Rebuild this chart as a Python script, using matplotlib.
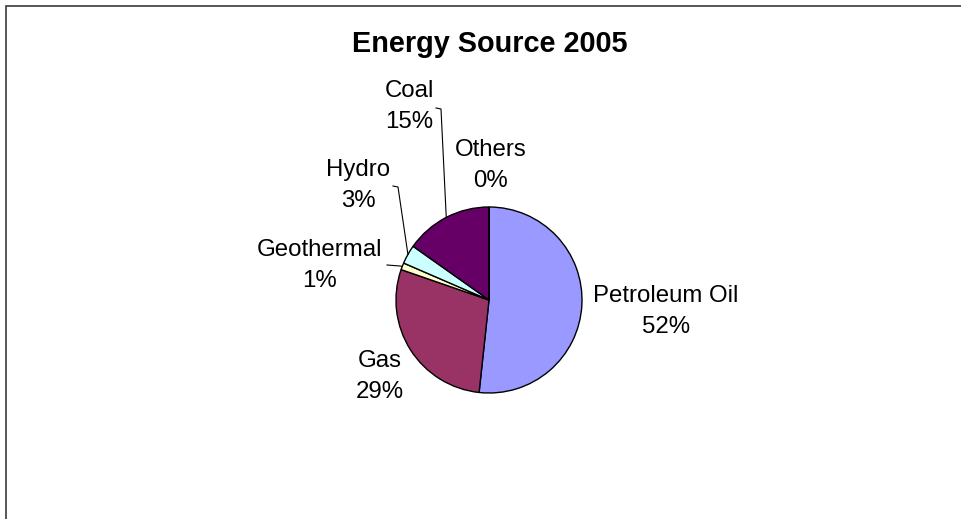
import matplotlib
matplotlib.use('Agg')
import numpy as np
import matplotlib.pyplot as plt
from matplotlib.patches import Rectangle

plt.rcParams['font.family'] = ['Liberation Sans', 'DejaVu Sans']

# data
categories = ['Petroleum Oil', 'Gas', 'Geothermal', 'Hydro', 'Coal', 'Others']
shares = [51.7, 28.6, 1.2, 3.3, 15.2, 0.0]
colors = ['#9999FF', '#993366', '#FFFFCC', '#CCFFFF', '#660066', '#FFFFFF']

W, H = 962, 519
center = (489, H - 300)
radius = 93
line_gap = 31

# label placement: centre x, baseline of first line (px from top)
label_pos = {
    'Petroleum Oil': (666, 302),
    'Gas': (380, 367),
    'Geothermal': (320, 256),
    'Hydro': (358, 176),
    'Coal': (409, 97),
    'Others': (491, 156),
}
# leader lines: start point and elbow (px from top), end on the wedge rim
leaders = {
    'Geothermal': [(387, 265), (400, 266)],
    'Hydro': [(393, 186), (398, 187)],
    'Coal': [(436, 108), (441, 109)],
}

fig = plt.figure(figsize=(W / 100, H / 100), dpi=100)
ax = fig.add_axes([0, 0, 1, 1])

wedges, _ = ax.pie(shares, colors=colors, startangle=90, counterclock=False,
                   center=center, radius=radius,
                   wedgeprops=dict(edgecolor='black', linewidth=1.0))
ax.set_xlim(0, W)
ax.set_ylim(0, H)
ax.axis('off')

for name, share, w in zip(categories, shares, wedges):
    x, y = label_pos[name]
    ax.text(x, H - y, name, ha='center', va='baseline', fontsize=17.3)
    ax.text(x, H - y - line_gap, '%d%%' % round(share), ha='center',
            va='baseline', fontsize=17.3)
    if name in leaders:
        mid = np.deg2rad((w.theta1 + w.theta2) / 2)
        pts = [(px, H - py) for px, py in leaders[name]]
        pts.append((center[0] + radius * np.cos(mid), center[1] + radius * np.sin(mid)))
        xs, ys = zip(*pts)
        ax.plot(xs, ys, color='black', lw=0.8)

ax.text(490, H - 52, 'Energy Source 2005', ha='center', va='baseline',
        fontsize=20.8, fontweight='bold')

# chart area frame (runs past right and bottom edges)
ax.add_patch(Rectangle((6, -20), 1000, H - 5.5 + 20, fill=False,
                       edgecolor='#3a3a3a', lw=1.2, clip_on=False))

fig.savefig('out.png', dpi=100)
